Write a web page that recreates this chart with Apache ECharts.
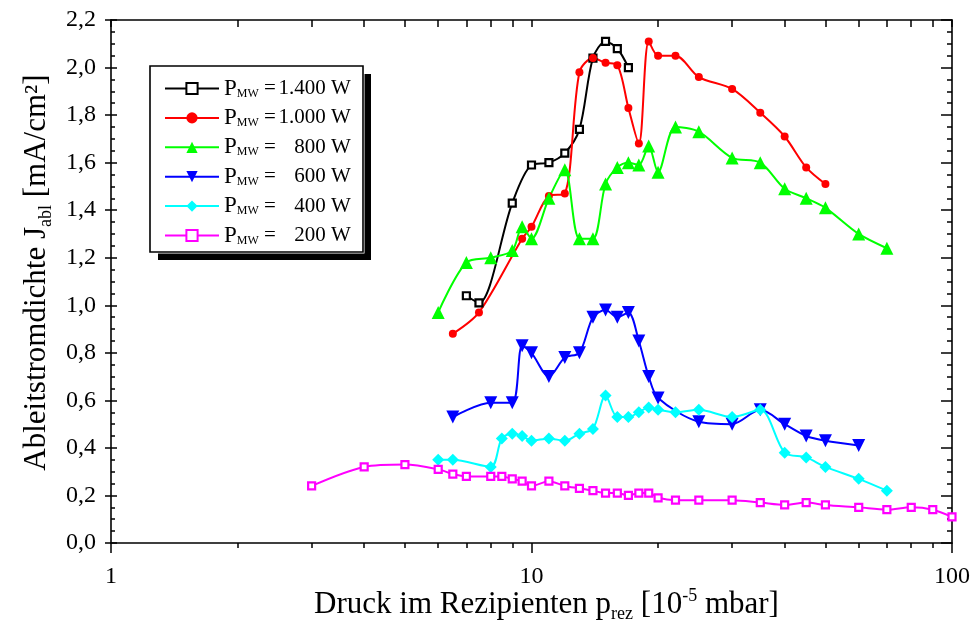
<!DOCTYPE html>
<html>
<head>
<meta charset="utf-8">
<script src="https://cdn.jsdelivr.net/npm/echarts@6/dist/echarts.min.js"></script>
<style>
  html, body { margin: 0; padding: 0; background: #fff; }
  #chart { width: 971px; height: 628px; }
</style>
</head>
<body>
<div id="chart"></div>
<script>
// Pressure values (10^-5 mbar) and extraction current density (mA/cm²) per microwave power
const p1400X = [7, 7.5, 9, 10, 11, 12, 13, 14, 15, 16, 17];
const p1400Y = [1.04, 1.01, 1.43, 1.59, 1.60, 1.64, 1.74, 2.04, 2.11, 2.08, 2.00];

const p1000X = [6.5, 7.5, 9.5, 10, 11, 12, 13, 14, 15, 16, 17, 18, 19, 20, 22, 25, 30, 35, 40, 45, 50];
const p1000Y = [0.88, 0.97, 1.28, 1.33, 1.46, 1.47, 1.98, 2.04, 2.02, 2.01, 1.83, 1.68, 2.11, 2.05, 2.05, 1.96, 1.91, 1.81, 1.71, 1.58, 1.51];

const p800X = [6, 7, 8, 9, 9.5, 10, 11, 12, 13, 14, 15, 16, 17, 18, 19, 20, 22, 25, 30, 35, 40, 45, 50, 60, 70];
const p800Y = [0.97, 1.18, 1.20, 1.23, 1.33, 1.28, 1.45, 1.57, 1.28, 1.28, 1.51, 1.58, 1.60, 1.59, 1.67, 1.56, 1.75, 1.73, 1.62, 1.60, 1.49, 1.45, 1.41, 1.30, 1.24];

const p600X = [6.5, 8, 9, 9.5, 10, 11, 12, 13, 14, 15, 16, 17, 18, 19, 20, 25, 30, 35, 40, 45, 50, 60];
const p600Y = [0.53, 0.59, 0.59, 0.83, 0.80, 0.70, 0.78, 0.80, 0.95, 0.98, 0.95, 0.97, 0.85, 0.70, 0.61, 0.51, 0.50, 0.56, 0.50, 0.45, 0.43, 0.41];

const p400X = [6, 6.5, 8, 8.5, 9, 9.5, 10, 11, 12, 13, 14, 15, 16, 17, 18, 19, 20, 22, 25, 30, 35, 40, 45, 50, 60, 70];
const p400Y = [0.35, 0.35, 0.32, 0.44, 0.46, 0.45, 0.43, 0.44, 0.43, 0.46, 0.48, 0.62, 0.53, 0.53, 0.55, 0.57, 0.56, 0.55, 0.56, 0.53, 0.56, 0.38, 0.36, 0.32, 0.27, 0.22];

const p200X = [3, 4, 5, 6, 6.5, 7, 8, 8.5, 9, 9.5, 10, 11, 12, 13, 14, 15, 16, 17, 18, 19, 20, 22, 25, 30, 35, 40, 45, 50, 60, 70, 80, 90, 100];
const p200Y = [0.24, 0.32, 0.33, 0.31, 0.29, 0.28, 0.28, 0.28, 0.27, 0.26, 0.24, 0.26, 0.24, 0.23, 0.22, 0.21, 0.21, 0.20, 0.21, 0.21, 0.19, 0.18, 0.18, 0.18, 0.17, 0.16, 0.17, 0.16, 0.15, 0.14, 0.15, 0.14, 0.11];

const seriesNames = ['1.400 W', '1.000 W', '800 W', '600 W', '400 W', '200 W'];

// Axis ticks
const xMajorTicks = [1, 10, 100];
const xMinorTicks = [2, 3, 4, 5, 6, 7, 8, 9, 20, 30, 40, 50, 60, 70, 80, 90];
const xAllTicks = [1, 2, 3, 4, 5, 6, 7, 8, 9, 10, 20, 30, 40, 50, 60, 70, 80, 90, 100];

const FONT = '"Liberation Serif", "Times New Roman", serif';

function pairs(xs, ys) { return xs.map((x, i) => [x, ys[i]]); }

function makeSeries(name, xs, ys, symbol, size, color, hollow) {
  return {
    name: name,
    type: 'line',
    xAxisIndex: 0,
    yAxisIndex: 0,
    data: pairs(xs, ys),
    smooth: 0.3,
    symbol: symbol,
    symbolSize: size,
    showAllSymbol: true,
    lineStyle: { color: color, width: 2 },
    itemStyle: hollow
      ? { color: '#ffffff', borderColor: color, borderWidth: 2.2 }
      : { color: color, borderWidth: 0 },
    emphasis: { disabled: true },
    animation: false,
    z: 3
  };
}

const chart = echarts.init(document.getElementById('chart'), null, { renderer: 'canvas' });

const gridBox = { left: 111, right: 19, top: 20, bottom: 85, containLabel: false, outerBoundsMode: 'none' };

const option = {
  backgroundColor: '#ffffff',
  animation: false,
  grid: [
    Object.assign({}, gridBox),
    Object.assign({}, gridBox)
  ],
  graphic: [
    { type: 'rect', shape: { x: 158, y: 74, width: 213, height: 186 }, style: { fill: '#000' }, z: 1 },
    { type: 'rect', shape: { x: 150, y: 66, width: 213, height: 186 }, style: { fill: '#fff', stroke: '#fff', lineWidth: 3 }, z: 2 },
    { type: 'rect', shape: { x: 150, y: 66, width: 213, height: 186 }, style: { fill: 'none', stroke: '#000', lineWidth: 1.6 }, z: 3 }
  ],
  legend: {
    orient: 'vertical',
    left: 164,
    top: 77,
    padding: 0,
    itemWidth: 54,
    itemHeight: 14,
    itemGap: 6.4,
    data: seriesNames,
    selectedMode: false,
    z: 10,
    textStyle: {
      fontFamily: FONT,
      color: '#000',
      rich: {
        p: { fontFamily: FONT, fontSize: 23, lineHeight: 22, color: '#000' },
        s: { fontFamily: FONT, fontSize: 12, lineHeight: 12, verticalAlign: 'bottom', color: '#000' },
        e: { fontFamily: FONT, fontSize: 21, lineHeight: 22, width: 17, align: 'right', color: '#000' },
        v: { fontFamily: FONT, fontSize: 21, lineHeight: 22, width: 75, align: 'right', color: '#000' }
      }
    },
    formatter: function (name) {
      return '{p|P}{s|MW}{e|=}{v|' + name + '}';
    }
  },
  xAxis: [
    {
      // bottom axis with labels and major ticks
      gridIndex: 0,
      type: 'log',
      logBase: 10,
      min: 1,
      max: 100,
      position: 'bottom',
      name: '{a|Druck im Rezipienten p}{s|rez}{a| [10}{t|-5}{a| mbar]}',
      nameLocation: 'middle',
      nameGap: 44,
      nameMoveOverlap: false,
      nameTextStyle: {
        padding: [0, 0, 0, 30],
        rich: {
          a: { fontFamily: FONT, fontSize: 31, lineHeight: 36, color: '#000' },
          s: { fontFamily: FONT, fontSize: 18, lineHeight: 14, verticalAlign: 'bottom', color: '#000' },
          t: { fontFamily: FONT, fontSize: 18, lineHeight: 22, verticalAlign: 'top', color: '#000' }
        }
      },
      axisLine: { show: true, onZero: false, lineStyle: { color: '#000', width: 1.6 } },
      axisTick: { show: true, inside: false, length: 10, customValues: xMajorTicks, lineStyle: { color: '#000', width: 1.5 } },
      axisLabel: { show: true, margin: 22, fontFamily: FONT, fontSize: 24, color: '#000', customValues: xMajorTicks, formatter: function (v) { return String(Math.round(v)); } },
      splitLine: { show: false },
      minorTick: { show: false }
    },
    {
      // top frame axis, inward ticks
      gridIndex: 0,
      type: 'log',
      logBase: 10,
      min: 1,
      max: 100,
      position: 'top',
      axisLine: { show: true, onZero: false, lineStyle: { color: '#000', width: 1.6 } },
      axisTick: { show: true, inside: true, length: 7, customValues: xAllTicks, lineStyle: { color: '#000', width: 1.5 } },
      axisLabel: { show: false },
      splitLine: { show: false }
    },
    {
      // bottom minor ticks
      gridIndex: 1,
      type: 'log',
      logBase: 10,
      min: 1,
      max: 100,
      position: 'bottom',
      axisLine: { show: false },
      axisTick: { show: true, inside: false, length: 5, customValues: xMinorTicks, lineStyle: { color: '#000', width: 1.5 } },
      axisLabel: { show: false },
      splitLine: { show: false }
    }
  ],
  yAxis: [
    {
      // left axis with labels, outward major ticks
      gridIndex: 0,
      type: 'value',
      min: 0,
      max: 2.2,
      interval: 0.2,
      position: 'left',
      name: '{a|Ableitstromdichte J}{s|abl}{a| [mA/cm²]}',
      nameLocation: 'middle',
      nameGap: 56,
      nameRotate: 90,
      nameMoveOverlap: false,
      nameTextStyle: {
        padding: [0, 0, 0, 18],
        rich: {
          a: { fontFamily: FONT, fontSize: 31, lineHeight: 36, color: '#000' },
          s: { fontFamily: FONT, fontSize: 18, lineHeight: 14, verticalAlign: 'bottom', color: '#000' }
        }
      },
      axisLine: { show: true, onZero: false, lineStyle: { color: '#000', width: 1.6 } },
      axisTick: { show: true, inside: false, length: 6, lineStyle: { color: '#000', width: 1.5 } },
      axisLabel: {
        show: true, margin: 15, fontFamily: FONT, fontSize: 24, color: '#000',
        formatter: function (v) { return v.toFixed(1).replace('.', ','); }
      },
      splitLine: { show: false }
    },
    {
      // right frame axis, inward ticks
      gridIndex: 0,
      type: 'value',
      min: 0,
      max: 2.2,
      interval: 0.2,
      position: 'right',
      axisLine: { show: true, onZero: false, lineStyle: { color: '#000', width: 1.6 } },
      axisTick: { show: true, inside: true, length: 11, lineStyle: { color: '#000', width: 1.5 } },
      minorTick: { show: true, splitNumber: 4, length: 5, lineStyle: { color: '#000', width: 1.5 } },
      axisLabel: { show: false },
      splitLine: { show: false }
    },
    {
      // left inward ticks
      gridIndex: 1,
      type: 'value',
      min: 0,
      max: 2.2,
      interval: 0.2,
      position: 'left',
      axisLine: { show: false },
      axisTick: { show: true, inside: true, length: 6, lineStyle: { color: '#000', width: 1.5 } },
      minorTick: { show: true, splitNumber: 4, length: 4, lineStyle: { color: '#000', width: 1.5 } },
      axisLabel: { show: false },
      splitLine: { show: false }
    }
  ],
  series: [
    makeSeries(seriesNames[0], p1400X, p1400Y, 'rect', 7, '#000000', true),
    makeSeries(seriesNames[1], p1000X, p1000Y, 'circle', 8, '#ff0000', false),
    makeSeries(seriesNames[2], p800X, p800Y, 'triangle', 13, '#00ff00', false),
    Object.assign(makeSeries(seriesNames[3], p600X, p600Y, 'triangle', 13, '#0000ff', false), { symbolRotate: 180 }),
    makeSeries(seriesNames[4], p400X, p400Y, 'diamond', 12, '#00ffff', false),
    makeSeries(seriesNames[5], p200X, p200Y, 'rect', 7, '#ff00ff', true)
  ]
};

chart.setOption(option);
</script>
</body>
</html>
